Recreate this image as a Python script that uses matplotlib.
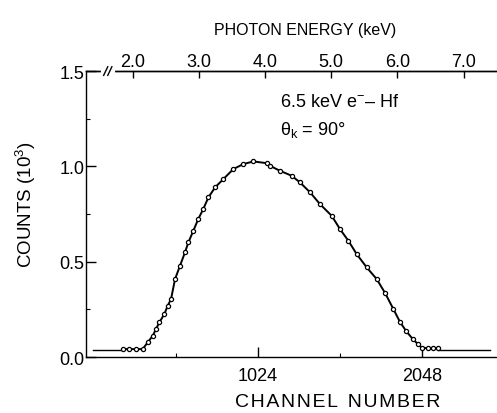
import numpy as np
import matplotlib.pyplot as plt
from matplotlib.ticker import FixedLocator, NullFormatter

plt.rcParams['font.family'] = ['Liberation Sans', 'DejaVu Sans']
plt.rcParams['mathtext.fontset'] = 'custom'
plt.rcParams['mathtext.rm'] = 'Liberation Sans'
plt.rcParams['mathtext.it'] = 'Liberation Sans'

# channel / counts (10^3)
channel = [179, 219, 262, 304, 335, 367, 387, 408, 439, 460, 481, 506, 537,
           568, 589, 620, 651, 682, 714, 756, 807, 870, 932, 995, 1078, 1099,
           1161, 1234, 1286, 1349, 1411, 1484, 1536, 1588, 1640, 1703, 1765,
           1818, 1869, 1910, 1950, 1990, 2020, 2046, 2086, 2117, 2148]
counts = [0.042, 0.042, 0.042, 0.042, 0.077, 0.112, 0.147, 0.182, 0.225,
          0.269, 0.304, 0.409, 0.479, 0.549, 0.601, 0.662, 0.724, 0.776,
          0.837, 0.890, 0.933, 0.986, 1.012, 1.026, 1.017, 1.003, 0.977,
          0.951, 0.916, 0.864, 0.802, 0.741, 0.671, 0.610, 0.540, 0.470,
          0.409, 0.335, 0.252, 0.185, 0.135, 0.095, 0.070, 0.050, 0.046,
          0.046, 0.046]

# flat background lines at both ends
left_ch = [-6, 179]
right_ch = [2148, 2473]
background = [0.037, 0.037]

energy_ticks = [2.0, 3.0, 4.0, 5.0, 6.0, 7.0]

W, H = 497, 414


def kev_to_ch(e):
    return 1068 + (np.asarray(e) - 4.0) * 413


def ch_to_kev(c):
    return 4.0 + (np.asarray(c) - 1068) / 413


fig = plt.figure(figsize=(W / 100, H / 100), dpi=100)
ax = fig.add_axes([0.173, 0.135, 0.827, 0.691])

ax.plot(left_ch, background, color='black', lw=1.0)
ax.plot(right_ch, background, color='black', lw=1.0)
ax.plot(channel, counts, color='black', lw=1.4, marker='o', ms=3,
        mfc='white', mec='black', mew=0.9)

ax.set_xlim(-50, 2516)
ax.set_ylim(0, 1.5)
ax.spines['right'].set_visible(False)
for s in ['left', 'bottom', 'top']:
    ax.spines[s].set_linewidth(1.0)

ax.xaxis.set_major_locator(FixedLocator([1024, 2048]))
ax.xaxis.set_minor_locator(FixedLocator([512, 1536]))
ax.yaxis.set_major_locator(FixedLocator([0.0, 0.5, 1.0, 1.5]))
ax.yaxis.set_minor_locator(FixedLocator([0.25, 0.75, 1.25]))
ax.set_yticklabels(['0.0', '0.5', '1.0', '1.5'])
ax.tick_params(which='both', direction='in', labelsize=13, top=False)
ax.tick_params(which='major', length=7, width=1)
ax.tick_params(which='minor', length=3, width=0.8)
ax.tick_params(axis='y', pad=1)
ax.tick_params(axis='x', pad=7)

sec = ax.secondary_xaxis('top', functions=(ch_to_kev, kev_to_ch))
sec.set_xticks(energy_ticks)
sec.set_xticklabels(['%.1f' % e for e in energy_ticks])
sec.tick_params(direction='in', length=5, width=1, labelsize=13, pad=1)
sec.xaxis.set_minor_formatter(NullFormatter())
sec.spines['top'].set_linewidth(1.0)

# axis titles placed in figure pixels
xlab = '\u200a'.join('CHANNEL') + '\u2002' + '\u200a'.join('NUMBER')
fig.text(338 / W, 1 - 403 / H, xlab, fontsize=14, ha='center', va='center')
fig.text(26 / W, 1 - 205 / H, 'COUNTS (10$^3$)', fontsize=13.5,
         rotation=90, ha='center', va='center')
fig.text(305 / W, 1 - 30 / H, 'PHOTON ENERGY (keV)', fontsize=11.5,
         ha='center', va='center')

# axis break mark on the top spine
bx = 0.054
ax.plot([bx - 0.012, bx + 0.012], [1.0, 1.0], color='white', lw=3,
        transform=ax.transAxes, clip_on=False, zorder=5)
for dx in (-0.006, 0.004):
    ax.plot([bx + dx - 0.005, bx + dx + 0.005], [0.985, 1.015], color='black',
            lw=1.0, transform=ax.transAxes, clip_on=False, zorder=6)

ax.text(1160, 1.34, '6.5 keV e$^{-}$– Hf', fontsize=13, va='center', ha='left')
ax.text(1160, 1.195, 'θ$_\\mathrm{k}$ = 90°', fontsize=13, va='center', ha='left')

fig.savefig('out.png', dpi=100)
